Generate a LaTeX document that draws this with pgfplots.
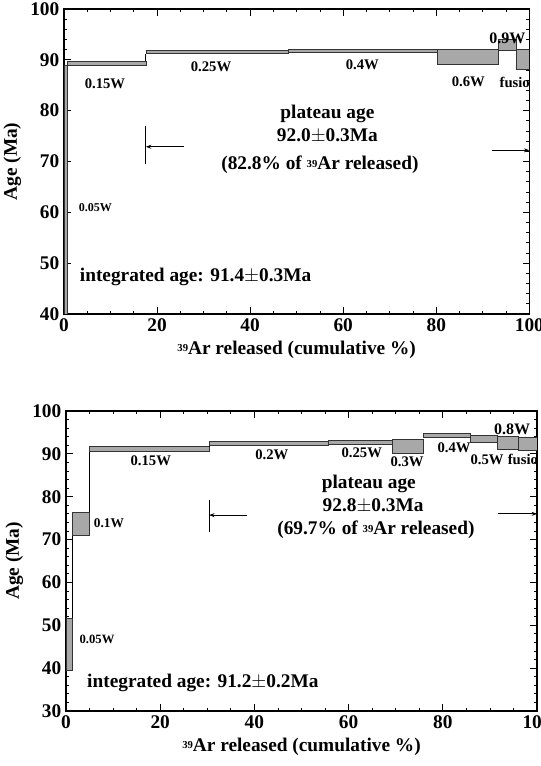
\documentclass[border=0pt]{standalone}
\usepackage{fontspec}
\setmainfont{Liberation Serif}
\usepackage{pgfplots}
\pgfplotsset{compat=1.18}
\usetikzlibrary{arrows.meta}

% one step of the age spectrum: x0, x1, age low, age high
\newcommand{\stepbox}[4]{\addplot[box] coordinates {(#1,#3) (#2,#3) (#2,#4) (#1,#4)} --cycle;}
\newcommand{\bigf}{\fontsize{14.5}{16}\selectfont\bfseries}
\newcommand{\smallf}{\fontsize{11}{12}\selectfont\bfseries}
\newcommand{\ar}{{\fontsize{8}{8}\selectfont\raisebox{0.55ex}{39}}Ar}

\pgfplotsset{
  argon/.style={
    scale only axis,
    xmin=0, xmax=100, xtick={0,20,...,100},
    minor x tick num=3, minor y tick num=4,
    tick align=inside, major tick length=5pt, minor tick length=2.5pt,
    every tick/.style={black, line width=0.6pt},
    axis line style={line width=0.9pt},
    /pgf/number format/assume math mode=true,
    tick label style={font=\fontsize{14.5}{15}\selectfont\bfseries},
    label style={font=\bigf},
    xlabel={\ar{} released (cumulative \%)},
    ylabel={Age (Ma)},
  },
  box/.style={fill=gray!68, draw=black!80, line width=0.45pt},
  link/.style={black, line width=0.7pt},
  arr/.style={black, line width=0.6pt, -{Stealth[length=4pt,width=3pt]}},
}

\begin{document}
\begin{tikzpicture}
\useasboundingbox (0,0) rectangle (405pt,574.5pt);

% ---- upper spectrum ----
\begin{axis}[argon, at={(48pt,339pt)}, anchor=south west,
    width=349pt, height=228.75pt,
    ymin=40, ymax=100, ytick={40,50,...,100}]
\stepbox{0}{0.8}{35}{89.0}
\stepbox{0.8}{17.6}{88.9}{89.8}
\addplot[link] coordinates {(17.6,89.8) (17.6,91.2)};
\stepbox{17.6}{48.2}{91.2}{91.8}
\stepbox{48.2}{80.2}{91.5}{92.1}
\stepbox{80.2}{93.3}{89.2}{92.1}
\stepbox{93.3}{97.2}{91.8}{94.0}
\stepbox{97.2}{100}{88.2}{92.1}
% plateau limits
\addplot[link, line width=0.7pt] coordinates {(17.6,69.5) (17.6,77.0)};
\addplot[arr] coordinates {(25.8,72.9) (17.6,72.9)};
\addplot[arr] coordinates {(92.0,72.2) (100,72.2)};
\node[font=\smallf] at (axis cs:8.8,85.2) {0.15W};
\node[font=\smallf] at (axis cs:31.6,88.6) {0.25W};
\node[font=\smallf] at (axis cs:64.1,89.0) {0.4W};
\node[font=\smallf] at (axis cs:86.9,85.6) {0.6W};
\node[font=\fontsize{12}{13}\selectfont\bfseries] at (axis cs:95.3,94.2) {0.9W};
\node[font=\smallf, anchor=west] at (axis cs:92.6,85.6) {fusion};
\node[font=\fontsize{9}{10}\selectfont\bfseries, anchor=west] at (axis cs:2.2,60.9) {0.05W};
\node[font=\bigf] at (axis cs:56.6,79.4) {plateau age};
\node[font=\bigf] at (axis cs:56.6,75.0) {92.0$\pm$0.3Ma};
\node[font=\bigf] at (axis cs:55.0,69.3) {(82.8\% of \ar{} released)};
\node[font=\bigf, anchor=west] at (axis cs:2.4,47.2) {integrated age: 91.4$\pm$0.3Ma};
\end{axis}

% ---- lower spectrum ----
\begin{axis}[argon, at={(49.5pt,41.25pt)}, anchor=south west,
    width=353.25pt, height=225pt,
    ymin=30, ymax=100, ytick={30,40,...,100}]
\stepbox{0}{1.3}{39.6}{51.7}
\addplot[link] coordinates {(1.3,51.7) (1.3,71.1)};
\stepbox{1.3}{4.9}{71.1}{76.4}
\addplot[link] coordinates {(4.9,76.4) (4.9,90.7)};
\stepbox{4.9}{30.4}{90.7}{91.7}
\addplot[link] coordinates {(30.4,91.7) (30.4,92.0)};
\stepbox{30.4}{55.6}{92.0}{93.0}
\stepbox{55.6}{69.2}{92.2}{93.2}
\stepbox{69.2}{75.8}{90.2}{93.5}
\stepbox{75.8}{85.8}{93.9}{94.9}
\stepbox{85.8}{91.5}{92.8}{94.4}
\stepbox{91.5}{96.0}{91.1}{94.1}
\stepbox{96.0}{100}{90.8}{93.8}
% plateau limits
\addplot[link, line width=0.7pt] coordinates {(30.4,71.8) (30.4,79.2)};
\addplot[arr] coordinates {(38.4,75.7) (30.4,75.7)};
\addplot[arr] coordinates {(91.7,76.0) (100,76.0)};
\node[font=\fontsize{9.5}{10}\selectfont\bfseries, anchor=west] at (axis cs:1.9,46.6) {0.05W};
\node[font=\fontsize{10}{11}\selectfont\bfseries] at (axis cs:9.1,73.9) {0.1W};
\node[font=\smallf] at (axis cs:18.0,88.3) {0.15W};
\node[font=\smallf] at (axis cs:43.7,89.7) {0.2W};
\node[font=\smallf] at (axis cs:62.8,90.2) {0.25W};
\node[font=\smallf] at (axis cs:72.4,88.1) {0.3W};
\node[font=\smallf] at (axis cs:82.4,91.4) {0.4W};
\node[font=\smallf] at (axis cs:89.4,88.6) {0.5W};
\node[font=\smallf, anchor=west] at (axis cs:92.8,88.6) {fusion};
\node[font=\fontsize{12}{13}\selectfont\bfseries] at (axis cs:94.7,95.8) {0.8W};
\node[font=\bigf] at (axis cs:64.3,82.9) {plateau age};
\node[font=\bigf] at (axis cs:65.2,77.9) {92.8$\pm$0.3Ma};
\node[font=\bigf] at (axis cs:65.8,72.2) {(69.7\% of \ar{} released)};
\node[font=\bigf, anchor=west] at (axis cs:3.5,36.5) {integrated age: 91.2$\pm$0.2Ma};
\end{axis}
\end{tikzpicture}
\end{document}
